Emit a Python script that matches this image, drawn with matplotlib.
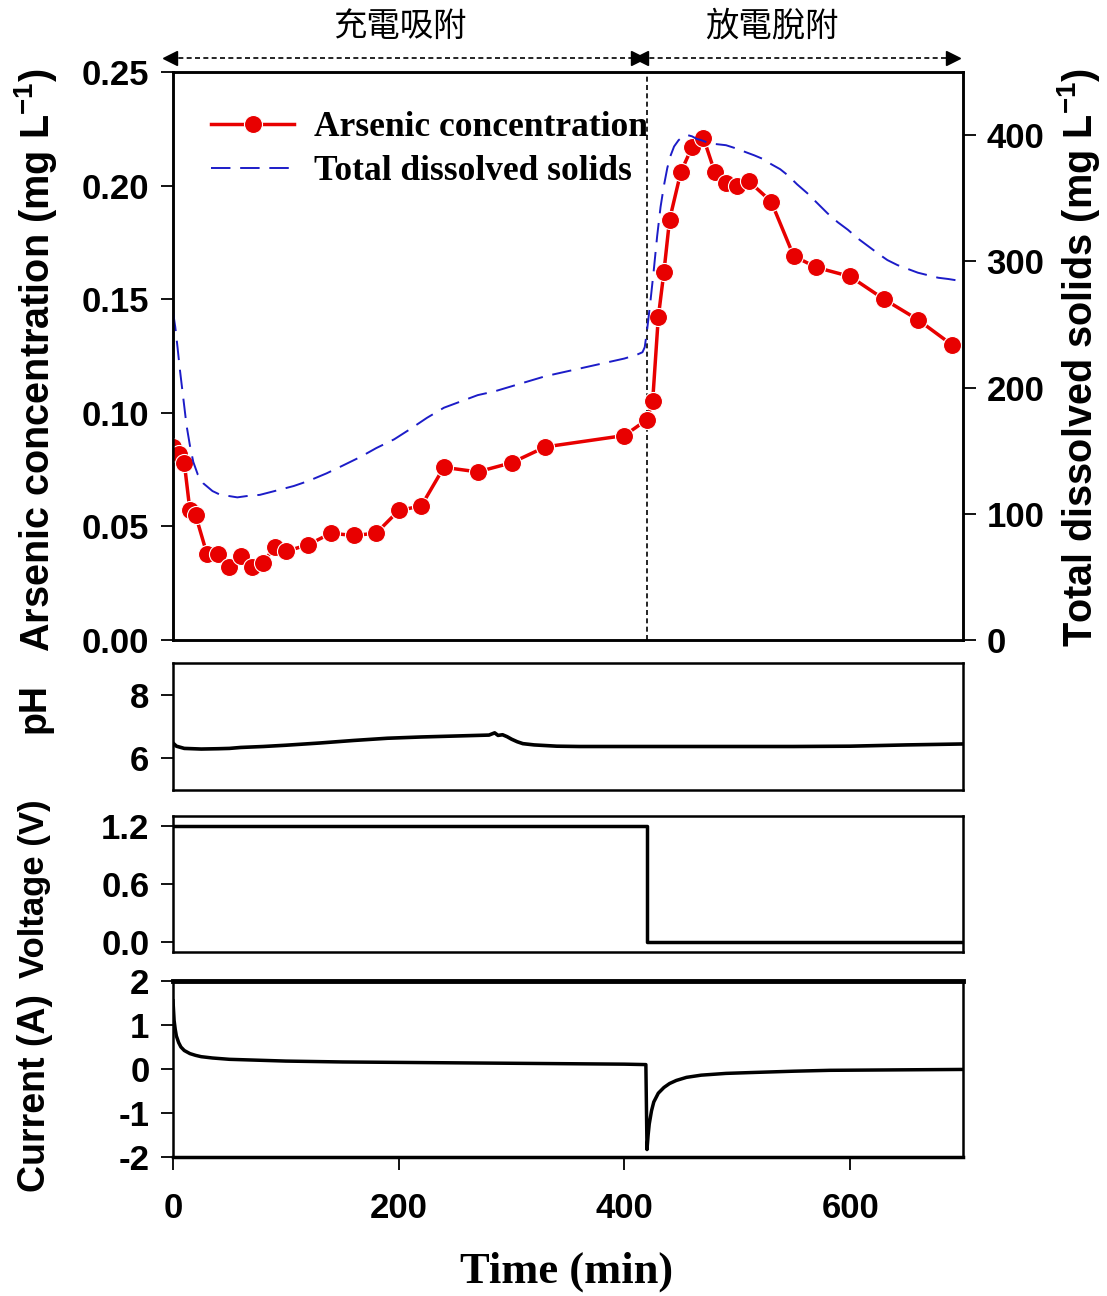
import matplotlib
matplotlib.use('Agg')
import matplotlib.pyplot as plt
import matplotlib.transforms as mtransforms

plt.rcParams['font.family'] = ['Liberation Sans', 'DejaVu Sans']
plt.rcParams['font.weight'] = 'bold'
plt.rcParams['mathtext.default'] = 'regular'
plt.rcParams['axes.unicode_minus'] = False

# arsenic samples (mg/L)
time_as = [0, 5, 10, 15, 20, 30, 40, 50, 60, 70, 80, 90, 100, 120, 140, 160, 180, 200,
           220, 240, 270, 300, 330, 400, 420, 425, 430, 435, 440, 450, 460, 470, 480,
           490, 500, 510, 530, 550, 570, 600, 630, 660, 690]
arsenic = [0.085, 0.082, 0.078, 0.057, 0.055, 0.038, 0.038, 0.032, 0.037, 0.032, 0.034,
           0.041, 0.039, 0.042, 0.047, 0.046, 0.047, 0.057, 0.059, 0.076, 0.074, 0.078,
           0.085, 0.090, 0.097, 0.105, 0.142, 0.162, 0.185, 0.206, 0.217, 0.221, 0.206,
           0.201, 0.200, 0.202, 0.193, 0.169, 0.164, 0.160, 0.150, 0.141, 0.130]

# total dissolved solids (mg/L)
time_tds = [0, 2, 4, 6, 8, 10, 12, 15, 18, 22, 27, 35, 42, 50, 57, 65, 77, 90, 107, 120,
            136, 150, 166, 180, 196, 210, 225, 240, 255, 270, 285, 300, 315, 330, 345,
            360, 380, 400, 411, 416, 418, 420, 423, 426, 429, 432, 435, 438, 441, 444,
            448, 452, 456, 460, 464, 468, 474, 480, 490, 497, 506, 515, 523, 530, 538,
            545, 553, 562, 571, 580, 589, 598, 607, 616, 625, 633, 642, 651, 660, 669,
            678, 687, 694, 700]
tds = [260, 248, 232, 215, 200, 185, 170, 154, 141, 131, 124, 118, 115, 114, 113, 114,
       115, 118, 122, 126, 132, 138, 145, 152, 159, 167, 176, 184, 189, 194, 197, 201,
       205, 209, 212, 215, 219, 223, 226, 228, 232, 245, 268, 293, 320, 343, 360, 374,
       384, 391, 396, 399, 400, 399, 397, 396, 394, 393, 392, 390, 387, 384, 381, 377,
       373, 368, 361, 354, 346, 338, 331, 325, 318, 312, 306, 301, 297, 294, 291, 289,
       287, 286, 285, 285]

time_ph = [0, 3, 10, 25, 40, 50, 60, 80, 100, 130, 160, 190, 220, 250, 270, 280, 285,
           288, 292, 296, 300, 305, 310, 320, 340, 360, 400, 450, 500, 550, 600, 650, 700]
ph = [6.48, 6.38, 6.31, 6.29, 6.30, 6.31, 6.34, 6.37, 6.41, 6.48, 6.56, 6.63, 6.67, 6.70,
      6.72, 6.73, 6.80, 6.72, 6.74, 6.68, 6.60, 6.52, 6.46, 6.42, 6.38, 6.37, 6.37, 6.37,
      6.37, 6.37, 6.38, 6.42, 6.45]

time_v = [0, 420, 420, 700]
voltage = [1.2, 1.2, 0.0, 0.0]

time_i = [0, 1, 2, 3, 5, 7, 10, 15, 20, 25, 35, 50, 75, 100, 150, 200, 250, 300, 350,
          400, 419, 420, 421, 422, 424, 426, 430, 435, 440, 446, 455, 468, 490, 513, 550,
          582, 640, 700]
current = [1.55, 1.1, 0.9, 0.75, 0.6, 0.5, 0.42, 0.35, 0.31, 0.28, 0.25, 0.22, 0.2, 0.18,
           0.16, 0.15, 0.14, 0.13, 0.12, 0.11, 0.10, -1.83, -1.5, -1.25, -0.95, -0.75,
           -0.55, -0.42, -0.33, -0.26, -0.19, -0.14, -0.1, -0.08, -0.05, -0.03, -0.02,
           -0.01]

label_charge = '充電吸附'
label_discharge = '放電脫附'

W, H = 1107, 1296
fig = plt.figure(figsize=(W / 100, H / 100), dpi=100)


def box(top, bottom):
    return [173 / W, 1 - bottom / H, (963 - 173) / W, (bottom - top) / H]


def px(x, y):
    return x / W, 1 - y / H


ax1 = fig.add_axes(box(72, 640))
ax_ph = fig.add_axes(box(663, 790))
ax_v = fig.add_axes(box(816, 952))
ax_i = fig.add_axes(box(981, 1157))

tick_fs = 25
for ax in (ax1, ax_ph, ax_v, ax_i):
    ax.set_xlim(0, 700)
    for s in ax.spines.values():
        s.set_linewidth(1.8)
    ax.tick_params(axis='y', direction='out', length=9, width=1.3, labelsize=tick_fs, pad=8)
    ax.tick_params(axis='x', bottom=False, labelbottom=False)

# top panel
ax1.plot(time_as, arsenic, color='#e80000', lw=2.5, marker='o', ms=13,
         mec='white', mew=0.8, zorder=3, label='Arsenic concentration')
ax1.set_ylim(0, 0.25)
ax1.set_yticks([0, 0.05, 0.10, 0.15, 0.20, 0.25])
ax1.set_yticklabels(['0.00', '0.05', '0.10', '0.15', '0.20', '0.25'])
ax1.axvline(420, color='black', lw=1.2, ls=(0, (3, 2)), zorder=1)

ax2 = ax1.twinx()
ax2.set_xlim(0, 700)
tds_line, = ax2.plot(time_tds, tds, color='#1c1cc8', lw=1.4, ls=(0, (10, 5)))
ax2.set_ylim(0, 450)
ax2.set_yticks([0, 100, 200, 300, 400])
ax2.tick_params(axis='y', direction='out', length=9, width=1.3, labelsize=tick_fs, pad=8)
for s in ax2.spines.values():
    s.set_linewidth(1.8)

as_line = ax1.get_lines()[0]
leg = ax1.legend([as_line, tds_line], ['Arsenic concentration', 'Total dissolved solids'],
                 loc='upper left', bbox_to_anchor=(0.026, 0.962), frameon=False,
                 prop={'family': 'Liberation Serif', 'weight': 'bold', 'size': 25.5},
                 handlelength=2.35, handletextpad=0.55, labelspacing=0.3, borderpad=0)

fig.text(*px(36, 360), 'Arsenic concentration (mg L$^{-1}$)', rotation=90,
         ha='center', va='center', fontsize=28.5, fontweight='bold')
fig.text(*px(1078, 357), 'Total dissolved solids (mg L$^{-1}$)', rotation=90,
         ha='center', va='center', fontsize=28.5, fontweight='bold')

# arrows and phase labels above the top panel
tr = mtransforms.blended_transform_factory(ax1.transData, ax1.transAxes)
ya = 1.025
for x0, x1 in [(-3, 412), (415, 691)]:
    ax1.plot([x0, x1], [ya, ya], transform=tr, clip_on=False, color='black', lw=1.2,
             ls=(0, (3, 2)))
    ax1.plot([x0], [ya], transform=tr, clip_on=False, marker='<', color='black', ms=10)
    ax1.plot([x1], [ya], transform=tr, clip_on=False, marker='>', color='black', ms=10)
ax1.text(201, 1.081, label_charge, transform=tr, ha='center', va='center',
         family=['Noto Sans CJK TC', 'DejaVu Sans'], fontweight='normal', fontsize=24)
ax1.text(531, 1.081, label_discharge, transform=tr, ha='center', va='center',
         family=['Noto Sans CJK TC', 'DejaVu Sans'], fontweight='normal', fontsize=24)

# pH panel
ax_ph.plot(time_ph, ph, color='black', lw=2.6)
ax_ph.set_ylim(5, 9)
ax_ph.set_yticks([6, 8])
fig.text(*px(35, 708), 'pH', rotation=90, ha='center', va='center',
         fontsize=27, fontweight='bold')

# voltage panel
ax_v.plot(time_v, voltage, color='black', lw=2.5)
ax_v.set_ylim(-0.1, 1.3)
ax_v.set_yticks([0.0, 0.6, 1.2])
ax_v.set_yticklabels(['0.0', '0.6', '1.2'])
fig.text(*px(35, 889), 'Voltage (V)', rotation=90, ha='center', va='center',
         fontsize=25, fontweight='bold')

# current panel
ax_i.plot(time_i, current, color='black', lw=2.5)
ax_i.set_ylim(-2, 2)
ax_i.set_yticks([-2, -1, 0, 1, 2])
ax_i.spines['top'].set_linewidth(3.5)
ax_i.spines['bottom'].set_linewidth(2.5)
ax_i.tick_params(axis='x', bottom=True, labelbottom=True, direction='out', length=9,
                 width=1.3, labelsize=tick_fs, pad=16)
ax_i.set_xticks([0, 200, 400, 600])
fig.text(*px(35, 1093), 'Current (A)', rotation=90, ha='center', va='center',
         fontsize=27, fontweight='bold')

fig.text(*px(567, 1272), 'Time (min)', ha='center', va='center',
         family='Liberation Serif', fontweight='bold', fontsize=32)

fig.savefig('out.png', dpi=100)
